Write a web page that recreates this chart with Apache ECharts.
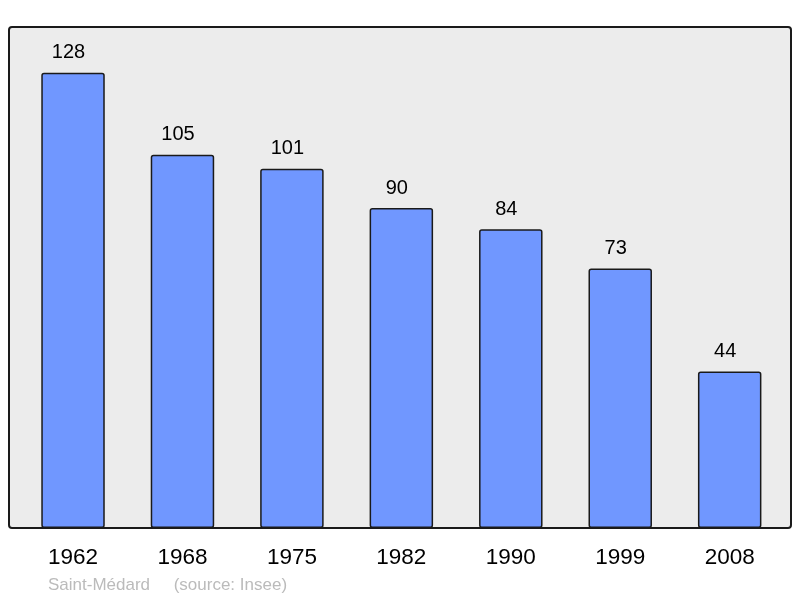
<!DOCTYPE html>
<html><head><meta charset="utf-8">
<script src="https://cdn.jsdelivr.net/npm/echarts@6/dist/echarts.min.js"></script>
<style>html,body{margin:0;padding:0;background:#fff}#c{width:800px;height:598px}</style>
</head><body><div id="c"></div>
<script>
const categories = ['1962','1968','1975','1982','1990','1999','2008'];
const population = [128,105,101,90,84,73,44];
const footerText = 'Saint-Médard     (source: Insee)';

const chart = echarts.init(document.getElementById('c'));
chart.setOption({
  animation: false,
  textStyle: { fontFamily: 'Liberation Sans, Arial, sans-serif' },
  graphic: [
    { type: 'rect', z: -10, shape: { x: 9, y: 27, width: 782, height: 501, r: 3 },
      style: { fill: '#ececec', stroke: '#1a1a1a', lineWidth: 2 } },
    { type: 'text', left: 48, top: 577,
      style: { text: footerText, fill: '#bbbbbb', fontSize: 17, fontFamily: 'Liberation Sans, Arial, sans-serif' } }
  ],
  grid: { left: 18.3, right: 15.6, top: 27, bottom: 70 },
  xAxis: {
    type: 'category', data: categories,
    axisLine: { show: false }, axisTick: { show: false },
    axisLabel: { fontSize: 22.5, color: '#000', margin: 18 }
  },
  yAxis: {
    type: 'value', min: 0, max: 140.9,
    show: false, splitLine: { show: false }
  },
  series: [{
    type: 'bar', data: population, barWidth: '58%',
    itemStyle: { color: '#7097ff', borderColor: '#1a1a1a', borderWidth: 1.5, borderRadius: 2 },
    label: { show: true, position: 'top', distance: 10, offset: [-4.5, 0], fontSize: 20, color: '#000' }
  }]
});
</script></body></html>
